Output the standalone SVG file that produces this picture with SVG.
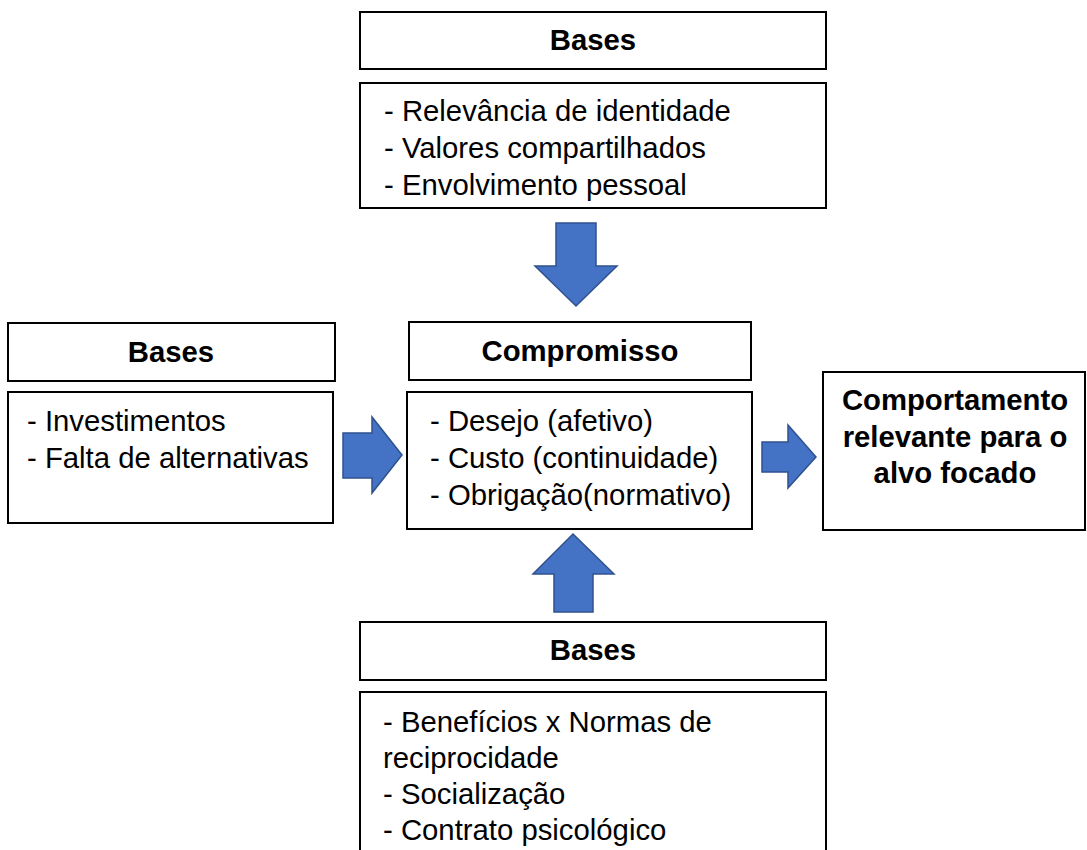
<svg xmlns="http://www.w3.org/2000/svg" width="1087" height="850" viewBox="0 0 1087 850">
<style>
.box{fill:#fff;stroke:#000;stroke-width:2}
.h{font-family:"Liberation Sans",Arial,sans-serif;font-size:29.3px;font-weight:bold;text-anchor:middle;fill:#000}
.t{font-family:"Liberation Sans",Arial,sans-serif;font-size:29.3px;fill:#000}
.arr{fill:#4472C4;stroke:#2F528F;stroke-width:1.5;stroke-linejoin:miter}
</style>
<rect width="1087" height="850" fill="#fff"/>
<g id="top-header"><rect class="box" x="360" y="12" width="466" height="57"/><text class="h" x="593" y="50">Bases</text></g>
<g id="top-body"><rect class="box" x="360" y="83" width="466" height="125"/>
<text class="t" x="384" y="121">- Relevância de identidade</text>
<text class="t" x="384" y="158">- Valores compartilhados</text>
<text class="t" x="384" y="195">- Envolvimento pessoal</text></g>
<g id="left-header"><rect class="box" x="8" y="323" width="327" height="58"/><text class="h" x="171" y="362">Bases</text></g>
<g id="left-body"><rect class="box" x="8" y="392" width="325" height="131"/>
<text class="t" x="27" y="431">- Investimentos</text>
<text class="t" x="27" y="468">- Falta de alternativas</text></g>
<g id="center-header"><rect class="box" x="409" y="322" width="342" height="58"/><text class="h" x="580" y="361">Compromisso</text></g>
<g id="center-body"><rect class="box" x="407" y="392" width="345" height="137"/>
<text class="t" x="430" y="431">- Desejo (afetivo)</text>
<text class="t" x="430" y="468">- Custo (continuidade)</text>
<text class="t" x="430" y="505">- Obrigação(normativo)</text></g>
<g id="right-box"><rect class="box" x="823" y="372" width="262" height="158"/>
<text class="h" x="955" y="410">Comportamento</text>
<text class="h" x="955" y="447">relevante para o</text>
<text class="h" x="955" y="483">alvo focado</text></g>
<g id="bottom-header"><rect class="box" x="360" y="622" width="466" height="58"/><text class="h" x="593" y="660">Bases</text></g>
<g id="bottom-body"><rect class="box" x="360" y="692" width="466" height="170"/>
<text class="t" x="383" y="732">- Benefícios x Normas de</text>
<text class="t" x="383" y="768">reciprocidade</text>
<text class="t" x="383" y="804">- Socialização</text>
<text class="t" x="383" y="840">- Contrato psicológico</text></g>
<g id="connectors">
<polygon class="arr" points="556,223 596,223 596,266 617,266 576,306 535,266 556,266"/>
<polygon class="arr" points="343,433 372,433 372,417 402,455 372,493 372,478 343,478"/>
<polygon class="arr" points="762,442 788,442 788,425 816,457 788,488 788,472 762,472"/>
<polygon class="arr" points="573,534 614,574 593,574 593,612 554,612 554,574 533,574"/>
</g>
</svg>
